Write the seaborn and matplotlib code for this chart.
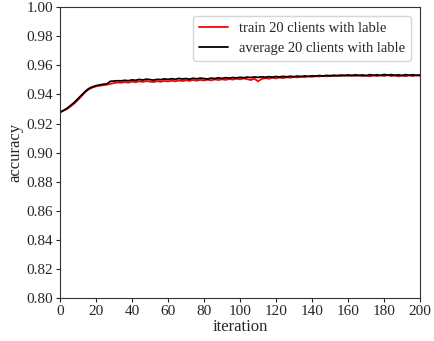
import matplotlib
matplotlib.use("Agg")
import matplotlib.pyplot as plt
import seaborn as sns
import numpy as np
import pandas as pd

# iteraciones (cada 2)
iteraciones = list(range(0, 201, 2))

promedio_20 = [
    0.9275, 0.9290, 0.9305, 0.9325, 0.9345, 0.9370, 0.9395, 0.9420, 0.9440, 0.9452,
    0.9460, 0.9465, 0.9470, 0.9472, 0.9490, 0.9492, 0.9494, 0.9493, 0.9497, 0.9494,
    0.9500, 0.9497, 0.9503, 0.9499, 0.9505, 0.9502, 0.9498, 0.9504, 0.9501, 0.9507,
    0.9503, 0.9508, 0.9504, 0.9510, 0.9506, 0.9509, 0.9505, 0.9511, 0.9507, 0.9512,
    0.9509, 0.9506, 0.9512, 0.9509, 0.9514, 0.9510, 0.9515, 0.9512, 0.9516, 0.9513,
    0.9518, 0.9514, 0.9519, 0.9516, 0.9520, 0.9517, 0.9521, 0.9518, 0.9522, 0.9519,
    0.9523, 0.9520, 0.9524, 0.9521, 0.9525, 0.9522, 0.9526, 0.9523, 0.9527, 0.9524,
    0.9528, 0.9525, 0.9530, 0.9526, 0.9531, 0.9527, 0.9532, 0.9528, 0.9533, 0.9529,
    0.9534, 0.9528, 0.9535, 0.9530, 0.9534, 0.9529, 0.9536, 0.9531, 0.9535, 0.9530,
    0.9537, 0.9532, 0.9536, 0.9531, 0.9535, 0.9530, 0.9536, 0.9532, 0.9535, 0.9531,
    0.9534,
]

train_20 = [
    0.9280, 0.9288, 0.9300, 0.9318, 0.9338, 0.9362, 0.9388, 0.9415, 0.9435, 0.9447,
    0.9455, 0.9460, 0.9463, 0.9467, 0.9472, 0.9478, 0.9482, 0.9480, 0.9485, 0.9481,
    0.9488, 0.9484, 0.9490, 0.9486, 0.9492, 0.9488, 0.9485, 0.9491, 0.9487, 0.9493,
    0.9489, 0.9495, 0.9490, 0.9496, 0.9492, 0.9497, 0.9493, 0.9499, 0.9494, 0.9500,
    0.9496, 0.9501, 0.9497, 0.9503, 0.9499, 0.9504, 0.9500, 0.9506, 0.9502, 0.9508,
    0.9504, 0.9510, 0.9505, 0.9499, 0.9508, 0.9490, 0.9506, 0.9512, 0.9508, 0.9514,
    0.9510, 0.9516, 0.9512, 0.9518, 0.9515, 0.9520, 0.9517, 0.9522, 0.9519, 0.9524,
    0.9521, 0.9526, 0.9523, 0.9528, 0.9524, 0.9530, 0.9525, 0.9531, 0.9526, 0.9532,
    0.9527, 0.9533, 0.9526, 0.9532, 0.9525, 0.9530, 0.9524, 0.9531, 0.9526, 0.9532,
    0.9527, 0.9533, 0.9526, 0.9531, 0.9524, 0.9530, 0.9525, 0.9531, 0.9526, 0.9532,
    0.9527,
]

etiquetas = ["train 20 clients with lable", "average 20 clients with lable"]

df = pd.DataFrame({
    "iteration": iteraciones * 2,
    "accuracy": train_20 + promedio_20,
    "serie": [etiquetas[0]] * len(iteraciones) + [etiquetas[1]] * len(iteraciones),
})

sns.set_style("ticks")
plt.rcParams["font.family"] = ["Liberation Serif", "DejaVu Serif"]

fig = plt.figure(figsize=(4.34, 3.41), dpi=100)
ax = fig.add_axes([0.138, 0.126, 0.830, 0.853])

sns.lineplot(data=df, x="iteration", y="accuracy", hue="serie",
             palette={etiquetas[0]: "red", etiquetas[1]: "black"},
             linewidth=1.3, ax=ax)

ax.set_xlim(0, 200)
ax.set_ylim(0.80, 1.00)
ax.set_xticks(np.arange(0, 201, 20))
ax.set_yticks(np.arange(0.80, 1.001, 0.02))
ax.set_yticklabels([f"{v:.2f}" for v in np.arange(0.80, 1.001, 0.02)])
ax.tick_params(labelsize=11, length=3, pad=2)
ax.set_xlabel("iteration", fontsize=12, labelpad=1)
ax.set_ylabel("accuracy", fontsize=12, labelpad=2)
for s in ax.spines.values():
    s.set_visible(True)
    s.set_color("#333333")

ax.legend(loc="upper right", fontsize=10.5, frameon=True, handlelength=2.0,
          borderaxespad=0.6)

fig.savefig("out.png", dpi=100)
